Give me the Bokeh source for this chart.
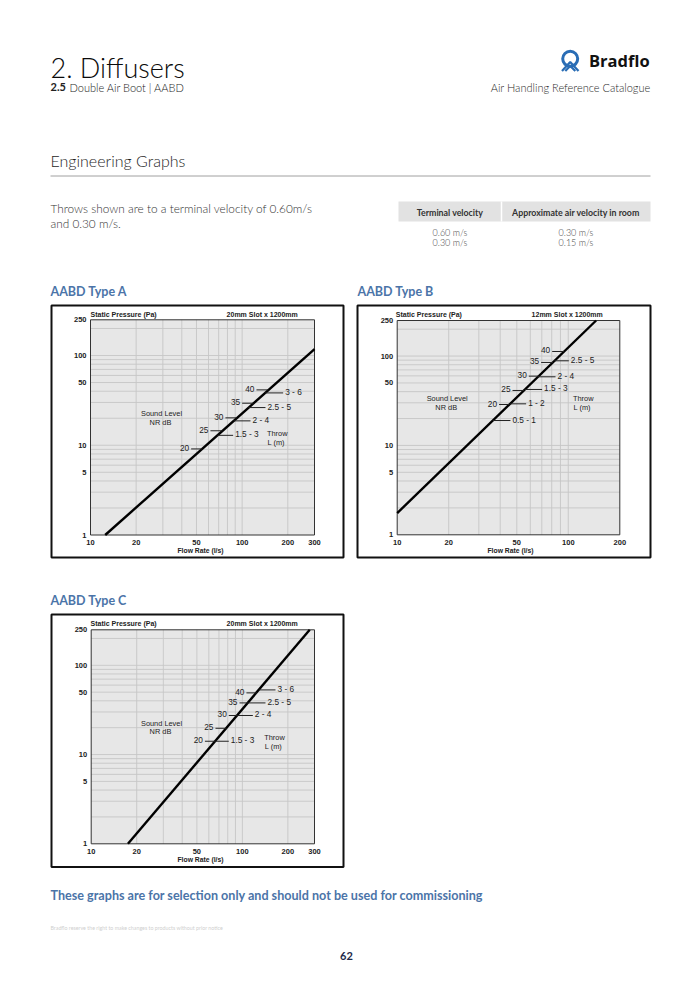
import math
from bokeh.plotting import figure
from bokeh.models import Range1d, LogScale
from bokeh.embed import file_html
from bokeh.resources import INLINE
from bokeh.core.properties import value

# ---------------- chart data ----------------
Y_TICKS = [1, 5, 10, 50, 100, 250]
Y_TICK_LABELS = ["1", "5", "10", "50", "100", "250"]
X_TICKS_300 = [10, 20, 50, 100, 200, 300]
X_TICK_LABELS_300 = ["10", "20", "50", "100", "200", "300"]
X_TICKS_200 = [10, 20, 50, 100, 200]
X_TICK_LABELS_200 = ["10", "20", "50", "100", "200"]
Y_GRID = [2, 3, 4, 5, 6, 7, 8, 9, 10, 20, 30, 40, 50, 60, 70, 80, 90, 100, 200]
X_GRID_300 = [20, 30, 40, 50, 60, 70, 80, 90, 100, 200]
X_GRID_200 = [20, 30, 40, 50, 60, 70, 80, 90, 100]

# Type A : 20mm slot x 1200mm
A_FLOW = [12.5, 300]
A_PRESSURE = [1.0, 118]
A_NR = ["20", "25", "30", "35", "40"]
A_NR_P = [9.1, 14.5, 20.2, 29.4, 41.4]
A_NR_F0 = [46.1, 61.8, 77.6, 100.0, 124.3]
A_NR_F1 = [54.5, 74.2, 92.2, 118.8, 149.2]
A_THROW = ["1.5 - 3", "2 - 4", "2.5 - 5", "3 - 6"]
A_THROW_P = [12.9, 18.7, 26.3, 38.3]
A_THROW_F0 = [68.8, 87.7, 110.1, 141.8]
A_THROW_F1 = [87.2, 113.5, 142.5, 186.4]

# Type B : 12mm slot x 1200mm
B_FLOW = [10, 145.5]
B_PRESSURE = [1.75, 250]
B_NR = ["20", "25", "30", "35", "40"]
B_NR_P = [28.7, 41.2, 59.6, 84.8, 112.5]
B_NR_F0 = [39.4, 47.2, 58.8, 69.4, 80.5]
B_NR_F1 = [45.3, 55.0, 67.3, 81.2, 94.6]
B_THROW = ["0.5 - 1", "1 - 2", "1.5 - 3", "2 - 4", "2.5 - 5"]
B_THROW_P = [19.0, 29.2, 42.3, 58.6, 88.5]
B_THROW_F0 = [36.2, 45.7, 55.7, 66.4, 83.0]
B_THROW_F1 = [45.9, 56.7, 70.3, 84.2, 100.7]

# Type C : 20mm slot x 1200mm
C_FLOW = [17.5, 279]
C_PRESSURE = [1.0, 250]
C_NR = ["20", "25", "30", "35", "40"]
C_NR_P = [14.1, 19.7, 27.4, 37.9, 49.1]
C_NR_F0 = [56.5, 66.4, 81.3, 95.7, 106.4]
C_NR_F1 = [66.4, 78.5, 92.9, 109.2, 124.7]
C_THROW = ["1.5 - 3", "2 - 4", "2.5 - 5", "3 - 6"]
C_THROW_P = [14.1, 27.4, 37.9, 53.0]
C_THROW_F0 = [66.4, 92.9, 109.2, 129.1]
C_THROW_F1 = [81.3, 117.3, 142.2, 165.6]

TABLE_HEAD = ["Terminal velocity", "Approximate air velocity in room"]
TABLE_TERMINAL = ["0.60 m/s", "0.30 m/s"]
TABLE_ROOM = ["0.30 m/s", "0.15 m/s"]

# ---------------- page canvas ----------------
PW, PH = 684, 974
p = figure(width=PW, height=PH, output_backend="svg", toolbar_location=None,
           x_range=Range1d(0, PW), y_range=Range1d(PH, 0),
           x_axis_location=None, y_axis_location=None, min_border=0)
p.xgrid.visible = False
p.ygrid.visible = False
p.outline_line_color = None
p.background_fill_color = "white"
p.border_fill_color = "white"

BLUE = "#4b74a8"
CH = value("Liberation Sans")
LIGHT = "Lato Light, Lato"


def txt(x, y, s, size, color="#222", style="normal", align="left", font="Lato"):
    p.text(x=[x], y=[y], text=[s], text_font=value(font), text_font_size=f"{size}px",
           text_font_style=style, text_color=color, text_align=align, text_baseline="middle")


def log_range(v0, p0, v1, p1, lo, hi):
    d = (p1 - p0) / (math.log10(v1) - math.log10(v0))
    return Range1d(start=10 ** (math.log10(v0) - (p0 - lo) / d),
                   end=10 ** (math.log10(v1) + (hi - p1) / d))


def draw_chart(key, box, xpix, ypix, xmax, xticks, xlabels, xgrid,
               flow, pres, nr, nr_p, nr_f0, nr_f1, th, th_p, th_f0, th_f1,
               slot, texts):
    # log scales mapped onto the chart's plot area
    p.extra_x_ranges[key] = log_range(10, xpix[0], xmax, xpix[1], 0, PW)
    p.extra_x_scales[key] = LogScale()
    p.extra_y_ranges[key] = log_range(1, PH - ypix[0], 250, PH - ypix[1], 0, PH)
    p.extra_y_scales[key] = LogScale()
    kw = dict(x_range_name=key, y_range_name=key)

    # outer frame
    p.quad(left=[box[0]], right=[box[2]], top=[box[1]], bottom=[box[3]],
           fill_color=None, line_color="#111111", line_width=2)
    # plot area + grid
    p.quad(left=[10], right=[xmax], bottom=[1], top=[250], fill_color="#e7e7e7",
           line_color=None, **kw)
    p.segment(x0=xgrid, y0=[1] * len(xgrid), x1=xgrid, y1=[250] * len(xgrid),
              line_color="#c6c6c6", line_width=0.9, **kw)
    p.segment(x0=[10] * len(Y_GRID), y0=Y_GRID, x1=[xmax] * len(Y_GRID), y1=Y_GRID,
              line_color="#c6c6c6", line_width=0.9, **kw)
    p.quad(left=[10], right=[xmax], bottom=[1], top=[250], fill_color=None,
           line_color="#333333", line_width=1, **kw)

    # curve and labelled ticks
    p.line(flow, pres, line_color="black", line_width=2.4, **kw)
    p.segment(x0=nr_f0, y0=nr_p, x1=nr_f1, y1=nr_p, line_color="#222", line_width=1, **kw)
    p.segment(x0=th_f0, y0=th_p, x1=th_f1, y1=th_p, line_color="#222", line_width=1, **kw)
    p.text(x=nr_f0, y=nr_p, text=nr, text_font=CH, text_font_size="8.3px",
           text_color="#222", text_align="right", text_baseline="middle",
           x_offset=-2, y_offset=-1, **kw)
    p.text(x=th_f1, y=th_p, text=th, text_font=CH, text_font_size="8.3px",
           text_color="#222", text_align="left", text_baseline="middle",
           x_offset=2, y_offset=-1, **kw)

    # axis tick labels
    p.text(x=[10] * len(Y_TICKS), y=Y_TICKS, text=Y_TICK_LABELS, text_font=CH,
           text_font_size="7.5px", text_font_style="bold", text_color="#222",
           text_align="right", text_baseline="middle", x_offset=-4, **kw)
    p.text(x=xticks, y=[1] * len(xticks), text=xlabels, text_font=CH,
           text_font_size="7.5px", text_font_style="bold", text_color="#222",
           text_align="center", text_baseline="middle", y_offset=7.5, **kw)

    # chart captions
    (sx, sy), (tx, ty), (fx, fy), (lx, ly), (rx, ry) = texts
    txt(sx, sy, "Static Pressure (Pa)", 7, style="bold", font="Liberation Sans")
    txt(tx, ty, slot, 7, style="bold", align="right", font="Liberation Sans")
    txt(fx, fy, "Flow Rate (l/s)", 6.8, style="bold", align="center", font="Liberation Sans")
    txt(lx, ly, "Sound Level", 7.4, align="center", font="Liberation Sans")
    txt(lx, ly + 8.5, "NR  dB", 7.4, align="center", font="Liberation Sans")
    txt(rx, ry, "Throw", 7.4, align="center", font="Liberation Sans")
    txt(rx, ry + 9, "L  (m)", 7.4, align="center", font="Liberation Sans")


# ---------------- header ----------------
txt(50, 67, "2. Diffusers", 27, color="#0a0a0a", font=LIGHT)
txt(50, 86.5, "2.5", 11, color="#222", style="bold")
txt(69, 86.5, "Double Air Boot  |  AABD", 11, color="#1a1a1a", font=LIGHT)
txt(650, 86.5, "Air Handling Reference Catalogue", 11, color="#2a2a2a", align="right", font=LIGHT)

# logo
p.scatter(x=[569.7], y=[58.3], size=15, marker="circle", fill_color=None,
          line_color="#2a6db5", line_width=3)
p.multi_line(xs=[[561.5, 569.7, 578], [564.8, 569.7, 574.8]],
             ys=[[70.5, 61.5, 70.5], [70.5, 65.5, 70.5]],
             line_color="#2a6db5", line_width=2.2)
txt(588.5, 60, "Bradflo", 16.5, color="#111", style="bold", font="Open Sans")

txt(50, 160, "Engineering Graphs", 16, color="#1e1e1e", font=LIGHT)
p.segment(x0=[50], y0=[175.5], x1=[650], y1=[175.5], line_color="#a0a0a0", line_width=1)

txt(50, 207.5, "Throws shown are to a terminal velocity of 0.60m/s", 11.8, color="#333", font=LIGHT)
txt(50, 222.5, "and 0.30 m/s.", 11.8, color="#333", font=LIGHT)

# table
p.quad(left=[398], right=[650], top=[201], bottom=[221], fill_color="#e2e2e2", line_color=None)
p.segment(x0=[501], y0=[201], x1=[501], y1=[221], line_color="white", line_width=1.5)
txt(449.5, 211.5, TABLE_HEAD[0], 8.8, color="#333", style="bold", align="center")
txt(575.5, 211.5, TABLE_HEAD[1], 8.8, color="#333", style="bold", align="center")
for i in range(2):
    txt(449.5, 231.5 + 10 * i, TABLE_TERMINAL[i], 9, color="#444", align="center", font=LIGHT)
    txt(575.5, 231.5 + 10 * i, TABLE_ROOM[i], 9, color="#444", align="center", font=LIGHT)

# chart titles
txt(50, 290.5, "AABD Type A", 12.5, color=BLUE, style="bold")
txt(357, 290.5, "AABD Type B", 12.5, color=BLUE, style="bold")
txt(50, 599.5, "AABD Type C", 12.5, color=BLUE, style="bold")

# ---------------- charts ----------------
draw_chart("A", (51, 305, 343, 557), (90, 314), (534.5, 319.3), 300,
           X_TICKS_300, X_TICK_LABELS_300, X_GRID_300,
           A_FLOW, A_PRESSURE, A_NR, A_NR_P, A_NR_F0, A_NR_F1,
           A_THROW, A_THROW_P, A_THROW_F0, A_THROW_F1, "20mm Slot x 1200mm",
           [(90, 313.7), (297.3, 313.7), (200, 550), (161, 413), (276.7, 432.7)])

draw_chart("B", (357, 305, 650, 557), (396.7, 619.3), (534.3, 320), 200,
           X_TICKS_200, X_TICK_LABELS_200, X_GRID_200,
           B_FLOW, B_PRESSURE, B_NR, B_NR_P, B_NR_F0, B_NR_F1,
           B_THROW, B_THROW_P, B_THROW_F0, B_THROW_F1, "12mm Slot x 1200mm",
           [(395.3, 313.7), (602.3, 313.7), (510, 550), (446.7, 398), (582.7, 398.3)])

draw_chart("C", (51, 614, 343, 866.5), (90.7, 314), (843.3, 629.3), 300,
           X_TICKS_300, X_TICK_LABELS_300, X_GRID_300,
           C_FLOW, C_PRESSURE, C_NR, C_NR_P, C_NR_F0, C_NR_F1,
           C_THROW, C_THROW_P, C_THROW_F0, C_THROW_F1, "20mm Slot x 1200mm",
           [(90, 622.7), (297.3, 622.7), (200, 859.3), (161, 722.7), (274, 736.7)])

# ---------------- footer ----------------
txt(50, 894.5, "These graphs are for selection only and should not be used for commissioning",
    12.6, color=BLUE, style="bold")
txt(50, 927.5, "Bradflo reserve the right to make changes to products without prior notice",
    5.3, color="#cfcfcf")
txt(346, 955.5, "62", 11, color="#1e2b4a", style="bold", align="center")

open("out.html", "w").write(file_html(p, INLINE))
